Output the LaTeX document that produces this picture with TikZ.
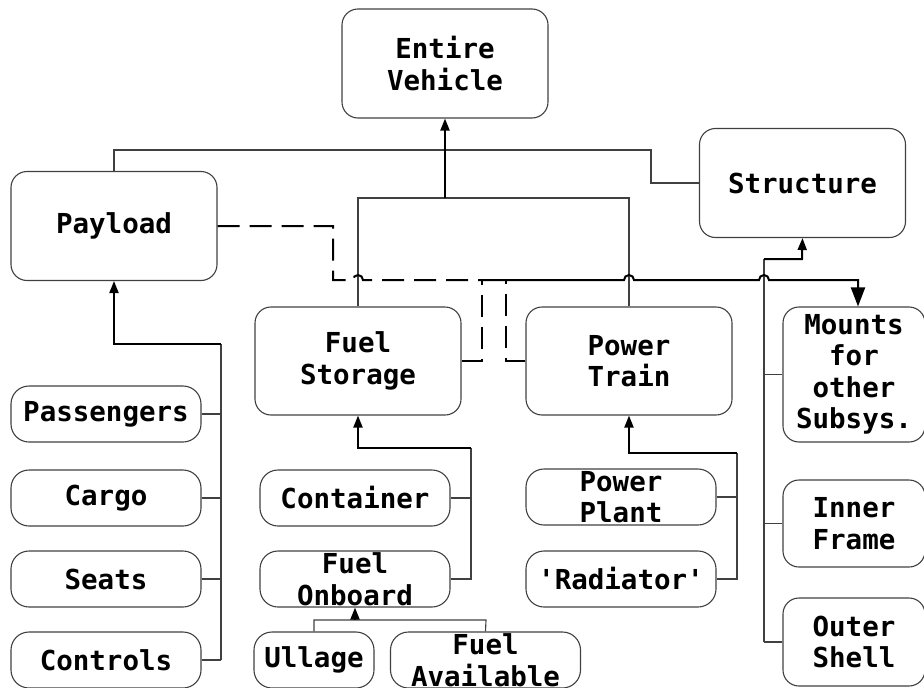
\documentclass[tikz,border=0pt]{standalone}
\usepackage{fontspec}
\setmonofont{DejaVu Sans Mono}
\usetikzlibrary{arrows.meta}

\begin{document}
\begin{tikzpicture}[x=1pt, y=-1pt,
    box/.style={draw=black!75, line width=1.1pt, rounded corners=16pt, align=center, inner sep=0pt,
      font=\ttfamily\bfseries\fontsize{27.5}{31.5}\selectfont},
    bigbox/.style={box, minimum width=206pt, minimum height=109pt},
    leaf/.style={box, rounded corners=18pt, minimum width=190pt, minimum height=56pt},
    thin/.style={draw=black!75, line width=1.1pt},
    thick/.style={draw=black, line width=2pt, -{Triangle[length=12pt, width=9pt]}},
    dashline/.style={draw=black, line width=2pt, dash pattern=on 22pt off 10pt}]
  \useasboundingbox (0,0) rectangle (924,688);

  % main blocks
  \node[bigbox] (ev) at (445,63.5) {Entire\\Vehicle};
  \node[bigbox] (struct) at (802.5,183) {Structure};
  \node[bigbox] (payload) at (114,226) {Payload};
  \node[bigbox, minimum height=108pt] (fuelstor) at (358,361) {Fuel\\Storage};
  \node[bigbox, minimum height=108pt] (powertr) at (629,361) {Power\\Train};
  \node[box, minimum width=142pt, minimum height=135pt] (mounts) at (854,374.5) {Mounts\\for\\other\\Subsys.};
  \node[box, minimum width=142pt, minimum height=87pt] (inner) at (854,523.5) {Inner\\Frame};
  \node[box, minimum width=142pt, minimum height=88pt] (outer) at (854,642) {Outer\\Shell};

  % payload parts
  \node[leaf] (pass) at (106,414) {Passengers};
  \node[leaf] (cargo) at (106,498) {Cargo};
  \node[leaf] (seats) at (106,579) {Seats};
  \node[leaf] (controls) at (106,660) {Controls};

  % fuel parts
  \node[leaf] (container) at (355,498) {Container};
  \node[leaf] (fuelonb) at (355,579) {Fuel\\Onboard};
  \node[leaf, minimum width=120pt] (ullage) at (314,660) {Ullage};
  \node[leaf] (fuelavail) at (485.5,660) {Fuel\\Available};

  % power parts
  \node[leaf] (pplant) at (621,497) {Power\\Plant};
  \node[leaf] (radiator) at (621,579) {'Radiator'};

  % junction points
  \coordinate (pbus) at (221,344);
  \coordinate (fbus) at (471,448);
  \coordinate (tbus) at (737,453);
  \coordinate (sbus) at (764,259);
  \coordinate (obus) at (355,620);
  \coordinate (top) at (445,198);
  \coordinate (j) at (482,280);

  % top level
  \draw[thin] (fuelstor.north) -- (358,198) -- (629,198) -- (powertr.north);
  \draw[thin] (payload.north) -- (114,150) -- (651,150) -- (651,183) -- (struct.west);
  \draw[thick] (top) -- (ev.south);

  % payload
  \draw[thin] (pbus) -- (221,660);
  \foreach \n in {pass,cargo,seats,controls}
    \draw[thin] (\n.east) -- (\n.east -| pbus);
  \draw[thick] (pbus) -- (114,344) -- (payload.south);

  % fuel storage
  \draw[thin] (container.east) -- (container.east -| fbus);
  \draw[thin] (fuelonb.east) -- (fuelonb.east -| fbus) -- (fbus);
  \draw[thick] (fbus) -- (358,448) -- (fuelstor.south);
  \draw[thin] (ullage.north) -- (314,620) -- (486,620) -- (fuelavail.north);
  \draw[thick] (obus) -- (fuelonb.south);

  % power train
  \draw[thin] (pplant.east) -- (pplant.east -| tbus);
  \draw[thin] (radiator.east) -- (radiator.east -| tbus) -- (tbus);
  \draw[thick] (tbus) -- (629,453) -- (powertr.south);

  % structure
  \draw[thin] (sbus) -- (764,642);
  \foreach \n in {mounts,inner,outer}
    \draw[thin] (\n.west) -- (\n.west -| sbus);
  \draw[thick] (sbus) -- (802,259) -- (struct.south);

  % mounting links
  \draw[dashline] (payload.east) -- (333,226) -- (333,280) -- (353,280)
    arc[start angle=180, end angle=360, radius=5] -- (j);
  \draw[dashline] (fuelstor.east) -- (482,361) -- (j);
  \draw[dashline] (powertr.west) -- (506,361) -- (506,280);
  \draw[thick, -{Triangle[length=19pt, width=14pt]}] (j) -- (624,280)
    arc[start angle=180, end angle=360, radius=5] -- (759,280)
    arc[start angle=180, end angle=360, radius=5] -- (858,280) -- (mounts.north -| 858,0);
\end{tikzpicture}
\end{document}
